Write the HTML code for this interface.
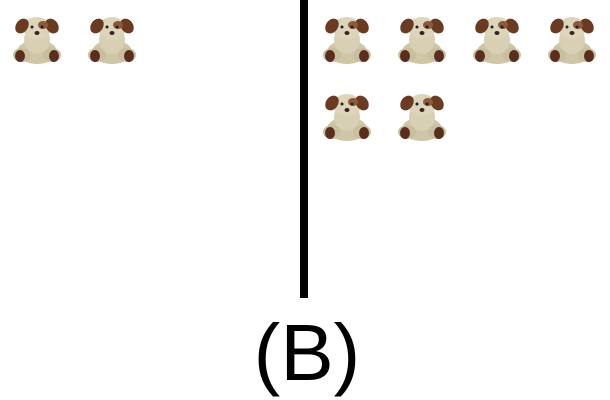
<!DOCTYPE html>
<html><head><meta charset="utf-8"><style>
html,body{margin:0;padding:0;background:#fff;width:610px;height:400px;overflow:hidden}
text{font-family:"Liberation Sans",sans-serif}
</style></head><body>
<svg id="c" width="610" height="400" viewBox="0 0 610 400">
<defs>
<g id="bear">
<ellipse cx="0" cy="14" rx="20" ry="12" fill="#cfc6a8"/>
<ellipse cx="0" cy="2" rx="13" ry="14" fill="#d8d0b4"/>
<ellipse cx="-15" cy="17" rx="9" ry="7" fill="#c9bf9f"/>
<ellipse cx="15" cy="17" rx="9" ry="7" fill="#c9bf9f"/>
<ellipse cx="-17" cy="18" rx="5" ry="6" fill="#5a2e1e"/>
<ellipse cx="17" cy="18" rx="5" ry="6" fill="#5a2e1e"/>
<ellipse cx="0" cy="-10" rx="14" ry="11" fill="#ddd5bb"/>
<ellipse cx="-15" cy="-12" rx="6" ry="8" fill="#6b3a22" transform="rotate(35 -15 -12)"/>
<ellipse cx="15" cy="-12" rx="6" ry="8" fill="#6b3a22" transform="rotate(-35 15 -12)"/>
<ellipse cx="6" cy="-13" rx="5" ry="4" fill="#8a5a3a"/>
<circle cx="-5" cy="-11" r="1.5" fill="#222"/>
<circle cx="5" cy="-11" r="1.5" fill="#222"/>
<ellipse cx="0" cy="-5" rx="2.5" ry="2" fill="#3a2318"/>
</g>
</defs>
<rect x="300" y="0" width="8" height="298" fill="#000"/>
<text x="307" y="380" font-size="80" text-anchor="middle" fill="#000">(B)</text>
<g id="bears"></g>
</svg>
<script>
const groups = ["left","right"];
const counts = [2, 6];
const perRow = 4;
const startX = [37, 347];
const dx = 75, dy = 77, y0 = 38;
const ns = "http://www.w3.org/2000/svg";
const host = document.getElementById("bears");
groups.forEach((g, gi) => {
  for (let i = 0; i < counts[gi]; i++) {
    const u = document.createElementNS(ns, "use");
    u.setAttribute("href", "#bear");
    const x = startX[gi] + (i % perRow) * dx;
    const y = y0 + Math.floor(i / perRow) * dy;
    u.setAttribute("transform", `translate(${x},${y})`);
    
    
    host.appendChild(u);
  }
});
</script>
</body></html>
